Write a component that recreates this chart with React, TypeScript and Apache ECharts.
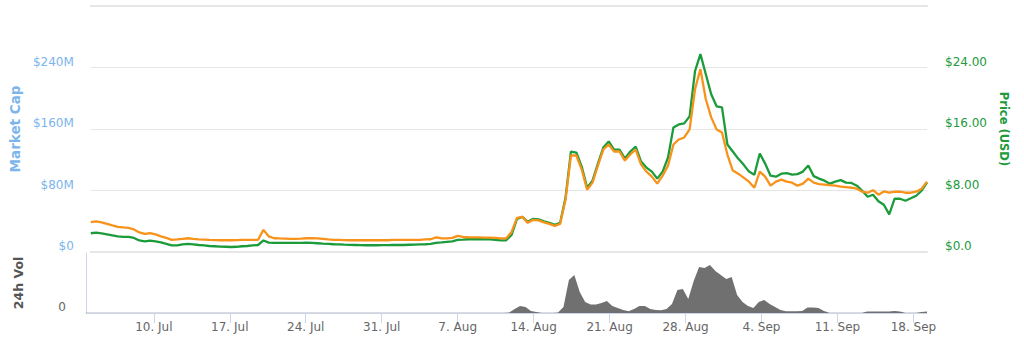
import React, { useEffect, useRef } from "react";
import * as echarts from "echarts";

// 12-hour samples starting 2017-07-03 18:00 UTC
const START_UTC = Date.UTC(2017, 6, 3, 18);
const STEP_HOURS = 12;

// Market cap in millions USD
const marketCapM = [
  38.8, 39.9, 38.6, 36.6, 34.6, 32.7, 32.0, 31.4, 29.4, 25.5,
  23.5, 24.4, 22.9, 20.3, 18.3, 15.7, 16.3, 17.0, 17.9, 17.0,
  16.3, 16.1, 15.7, 15.4, 15.3, 15.3, 15.3, 15.4, 15.7, 15.7,
  15.7, 15.9, 28.8, 20.3, 17.9, 17.6, 17.4, 17.0, 17.0, 17.4,
  17.9, 17.9, 17.6, 17.0, 16.3, 15.7, 15.7, 15.4, 15.3, 15.3,
  15.3, 15.3, 15.3, 15.3, 15.3, 15.3, 15.7, 15.7, 15.7, 15.7,
  15.7, 15.7, 16.3, 16.6, 19.0, 17.9, 17.6, 18.3, 20.9, 19.6,
  19.2, 19.0, 19.0, 18.7, 18.7, 18.3, 17.6, 17.9, 26.1, 44.4,
  45.7, 37.9, 41.8, 41.2, 38.6, 36.6, 34.0, 36.6, 68.0, 125.5,
  125.5, 107.2, 81.0, 90.2, 112.4, 133.3, 139.8, 130.7, 130.7, 118.9,
  126.8, 133.3, 113.7, 104.6, 98.0, 88.9, 99.3, 112.4, 139.8, 146.4,
  149.0, 159.5, 211.7, 237.9, 198.7, 175.1, 159.5, 155.5, 126.8, 105.9,
  101.9, 96.7, 91.5, 83.6, 104.6, 98.0, 86.3, 91.5, 94.1, 91.5,
  90.2, 86.3, 88.9, 95.4, 90.2, 88.2, 87.6, 86.9, 86.3, 85.0,
  84.3, 83.6, 82.3, 78.4, 77.1, 80.4, 74.5, 78.8, 77.1, 78.4,
  78.4, 77.1, 77.1, 78.4, 82.3, 91.5,
];

// Price in USD
const priceUSD = [
  2.44, 2.51, 2.42, 2.29, 2.16, 2.03, 1.96, 1.96, 1.83, 1.50,
  1.37, 1.48, 1.37, 1.24, 1.05, 0.85, 0.85, 0.98, 1.05, 0.98,
  0.91, 0.85, 0.78, 0.75, 0.69, 0.68, 0.65, 0.68, 0.75, 0.78,
  0.85, 0.91, 1.50, 1.22, 1.18, 1.18, 1.18, 1.18, 1.18, 1.20,
  1.22, 1.18, 1.14, 1.08, 1.05, 1.01, 0.98, 0.95, 0.93, 0.91,
  0.89, 0.88, 0.88, 0.88, 0.89, 0.90, 0.91, 0.91, 0.91, 0.94,
  0.95, 0.98, 1.01, 1.05, 1.18, 1.24, 1.31, 1.37, 1.57, 1.61,
  1.66, 1.66, 1.66, 1.66, 1.66, 1.59, 1.50, 1.53, 2.22, 4.31,
  4.57, 3.92, 4.31, 4.25, 3.99, 3.79, 3.53, 3.79, 7.06, 13.07,
  12.94, 11.11, 8.36, 9.28, 11.50, 13.59, 14.38, 13.33, 13.33, 12.15,
  13.07, 13.72, 11.76, 10.98, 10.46, 9.54, 10.46, 12.29, 16.21, 16.60,
  16.73, 17.64, 23.53, 25.75, 23.13, 20.52, 18.95, 18.82, 13.98, 13.07,
  12.15, 11.37, 10.46, 10.06, 12.81, 11.50, 9.93, 9.80, 10.19, 10.26,
  10.06, 10.13, 10.46, 11.24, 9.87, 9.54, 9.28, 8.89, 9.15, 9.35,
  9.02, 8.98, 8.63, 7.97, 7.19, 7.45, 6.60, 6.14, 4.90, 6.93,
  6.93, 6.67, 6.99, 7.32, 7.97, 9.02,
];

// 24h volume in millions USD
const volumeM = [
  0.1, 0.1, 0.1, 0.1, 0.1, 0.1, 0.1, 0.1, 0.1, 0.1,
  0.1, 0.1, 0.1, 0.1, 0.1, 0.1, 0.1, 0.1, 0.1, 0.1,
  0.1, 0.1, 0.1, 0.1, 0.1, 0.1, 0.1, 0.1, 0.1, 0.1,
  0.1, 0.1, 0.1, 0.1, 0.1, 0.1, 0.1, 0.1, 0.1, 0.1,
  0.1, 0.1, 0.1, 0.1, 0.1, 0.1, 0.1, 0.1, 0.1, 0.1,
  0.1, 0.1, 0.1, 0.1, 0.1, 0.1, 0.1, 0.1, 0.1, 0.1,
  0.1, 0.1, 0.1, 0.1, 0.1, 0.1, 0.1, 0.1, 0.1, 0.1,
  0.1, 0.1, 0.1, 0.1, 0.1, 0.1, 0.1, 0.1, 0.25, 2.0,
  3.5, 3.0, 1.0, 0.5, 0.15, 0.1, 0.1, 0.25, 3.0, 16.5,
  19.0, 10.5, 5.5, 4.2, 4.2, 5.0, 6.0, 3.5, 2.5, 1.5,
  0.85, 2.0, 3.5, 3.5, 2.0, 1.5, 1.35, 2.0, 4.5, 11.5,
  12.0, 7.0, 16.0, 23.0, 22.5, 24.0, 21.0, 19.0, 17.0, 18.0,
  9.0, 5.5, 3.5, 2.5, 5.5, 6.5, 4.5, 3.0, 1.5, 0.85,
  0.85, 0.85, 1.0, 2.75, 2.75, 2.5, 1.0, 0.15, 0.1, 0.1,
  0.1, 0.15, 0.1, 0.15, 0.75, 0.75, 0.75, 0.75, 0.75, 1.0,
  0.75, 0.15, 0.1, 0.15, 0.5, 0.75,
];

const tickDates = [
  "2017-07-10", "2017-07-17", "2017-07-24", "2017-07-31", "2017-08-07",
  "2017-08-14", "2017-08-21", "2017-08-28", "2017-09-04", "2017-09-11", "2017-09-18",
];
const monthNames = ["Jan", "Feb", "Mar", "Apr", "May", "Jun", "Jul", "Aug", "Sep", "Oct", "Nov", "Dec"];

const FONT = "DejaVu Sans";

export default function App() {
  const ref = useRef<HTMLDivElement>(null);

  useEffect(() => {
    if (!ref.current) return;
    const chart = echarts.init(ref.current, null, { renderer: "svg" });
    const stepMs = STEP_HOURS * 3600 * 1000;
    const t = (i: number) => START_UTC + i * stepMs;
    const mcData = marketCapM.map((v, i) => [t(i), v * 1e6]);
    const prData = priceUSD.map((v, i) => [t(i), v]);
    const volData = volumeM.map((v, i) => [t(i), v]);
    const ticks = tickDates.map((d) => Date.parse(d + "T00:00:00Z"));
    const xMin = t(0);
    const xMax = t(marketCapM.length - 1);
    const fmtDate = (v: number) => {
      const d = new Date(v);
      return `${d.getUTCDate()}. ${monthNames[d.getUTCMonth()]}`;
    };

    const hiddenX = (pos: "top" | "bottom") => ({
      type: "value",
      gridIndex: 0,
      position: pos,
      min: xMin,
      max: xMax,
      axisLine: { show: true, onZero: false, lineStyle: { color: "#e6e6e6", width: 2 } },
      axisTick: { show: false },
      axisLabel: { show: false },
      splitLine: { show: false },
    });

    chart.setOption({
      animation: false,
      textStyle: { fontFamily: FONT },
      grid: [
        { left: 86, width: 841, top: 6, height: 246 },
        { left: 86, width: 841, top: 253, height: 60 },
      ],
      xAxis: [
        hiddenX("bottom"),
        hiddenX("top"),
        {
          type: "value",
          gridIndex: 1,
          min: xMin,
          max: xMax,
          axisLine: { show: true, onZero: false, lineStyle: { color: "#ccd6eb", width: 1 } },
          axisTick: { show: true, customValues: ticks, length: 10, lineStyle: { color: "#ccd6eb" } },
          axisLabel: {
            customValues: ticks,
            formatter: (v: number) => fmtDate(v),
            color: "#666666",
            fontSize: 12,
            fontFamily: FONT,
            margin: 8,
          },
          splitLine: { show: false },
        },
      ],
      yAxis: [
        {
          type: "value",
          gridIndex: 0,
          position: "left",
          min: 0,
          max: 320e6,
          interval: 80e6,
          name: "Market Cap",
          nameLocation: "middle",
          nameRotate: 90,
          nameGap: 65,
          nameTextStyle: { color: "#7cb5ec", fontWeight: "bold", fontSize: 13.5, fontFamily: FONT },
          axisLine: { show: false },
          axisTick: { show: false },
          axisLabel: {
            formatter: (v: number) => (v >= 320e6 ? "" : v === 0 ? "$0" : `$${v / 1e6}M`),
            color: "#7cb5ec",
            fontSize: 12,
            fontFamily: FONT,
            margin: 17,
            verticalAlign: "bottom",
          },
          splitLine: { show: true, lineStyle: { color: "#e6e6e6", width: 1 } },
        },
        {
          type: "value",
          gridIndex: 0,
          position: "right",
          min: 0,
          max: 32,
          interval: 8,
          name: "Price (USD)",
          nameLocation: "middle",
          nameRotate: -90,
          nameGap: 69,
          nameTextStyle: { color: "#229a3c", fontWeight: "bold", fontSize: 11.5, fontFamily: FONT },
          axisLine: { show: false },
          axisTick: { show: false },
          axisLabel: {
            formatter: (v: number) => (v >= 32 ? "" : v === 0 ? "$0.0" : `$${v.toFixed(2)}`),
            color: "#229a3c",
            fontSize: 12,
            fontFamily: FONT,
            margin: 18,
            verticalAlign: "bottom",
          },
          splitLine: { show: false },
        },
        {
          type: "value",
          gridIndex: 1,
          position: "left",
          min: 0,
          max: 30,
          interval: 30,
          name: "24h Vol",
          nameLocation: "middle",
          nameRotate: 90,
          nameGap: 61,
          nameTextStyle: { color: "#555555", fontWeight: "bold", fontSize: 12.5, fontFamily: FONT },
          axisLine: { show: true, lineStyle: { color: "#ccd6eb", width: 1 } },
          axisTick: { show: false },
          axisLabel: {
            formatter: (v: number) => (v === 0 ? "0" : ""),
            color: "#666666",
            fontSize: 12,
            fontFamily: FONT,
            margin: 20,
            verticalAlign: "bottom",
          },
          splitLine: { show: false },
        },
      ],
      series: [
        {
          name: "Price (USD)",
          type: "line",
          xAxisIndex: 0,
          yAxisIndex: 1,
          data: prData,
          showSymbol: false,
          lineStyle: { color: "#1b9b3a", width: 2.3 },
          itemStyle: { color: "#1b9b3a" },
          z: 2,
        },
        {
          name: "Market Cap",
          type: "line",
          xAxisIndex: 0,
          yAxisIndex: 0,
          data: mcData,
          showSymbol: false,
          lineStyle: { color: "#f7931a", width: 2.3 },
          itemStyle: { color: "#f7931a" },
          z: 3,
        },
        {
          name: "24h Vol",
          type: "line",
          xAxisIndex: 2,
          yAxisIndex: 2,
          data: volData,
          showSymbol: false,
          lineStyle: { width: 0, color: "#707070" },
          itemStyle: { color: "#707070" },
          areaStyle: { color: "#707070", opacity: 1 },
          z: 2,
        },
      ],
    });

    return () => chart.dispose();
  }, []);

  return (
    <div
      ref={ref}
      style={{ position: "fixed", left: 0, top: 0, width: 1024, height: 353, background: "#ffffff" }}
    />
  );
}
